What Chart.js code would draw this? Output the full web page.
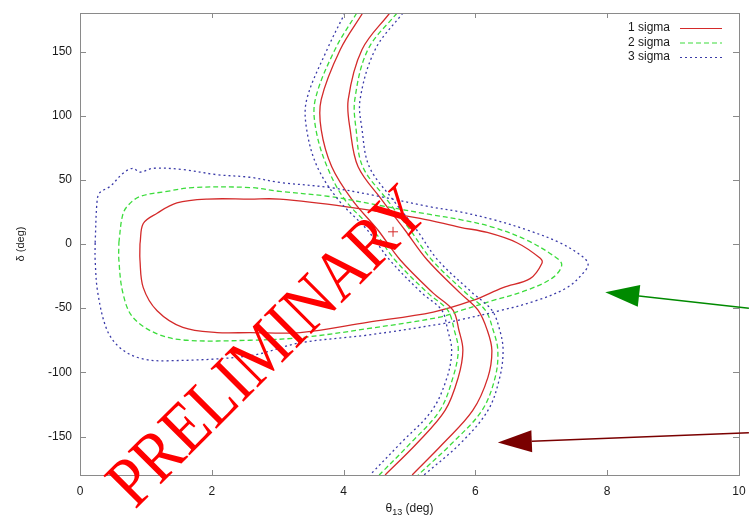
<!DOCTYPE html>
<html>
<head>
<meta charset="utf-8">
<script src="https://cdn.jsdelivr.net/npm/chart.js@4/dist/chart.umd.min.js"></script>
<style>
  body { margin: 0; background: #fff; }
  #wrap { width: 749px; height: 517px; }
</style>
</head>
<body>
<div id="wrap"><canvas id="c" width="749" height="517"></canvas></div>
<script>
// contour data, theta13 (deg) vs delta (deg)

// closed loops (horizontal lobes)
const loop1Theta = [0.91, 0.96, 1.17, 1.47, 1.93, 2.58, 3.03, 4.05, 5.16, 5.77, 6.18, 6.63, 6.98, 7.01, 6.83, 6.42, 5.96, 5.36, 4.36, 3.34, 2.58, 2.08, 1.56, 1.17, 0.96, 0.91, 0.91];
const loop1Delta = [0, 16, 24, 32, 35, 35, 35, 29, 20, 13, 9, 1, -11, -15, -27, -34, -44, -53, -61, -69, -69, -69, -65, -52, -34, -12.5, 0];

const loop2Theta = [0.59, 0.64, 0.71, 0.91, 1.32, 1.71, 2.58, 3.03, 3.79, 4.55, 5.31, 5.77, 6.27, 6.78, 7.18, 7.31, 7.18, 6.78, 6.27, 5.77, 5.46, 4.36, 3.34, 2.58, 1.62, 1.17, 0.80, 0.65, 0.59, 0.59];
const loop2Delta = [1, 21, 29, 37, 41, 44, 44, 41, 37, 30, 23, 19, 13, 3, -9, -16, -26, -36, -44, -52, -57, -66, -73, -75, -75, -70, -57, -38, -12.5, 1];

const loop3Theta = [0.23, 0.26, 0.30, 0.46, 0.65, 0.80, 0.91, 1.11, 1.56, 2.08, 2.58, 3.03, 3.79, 4.55, 5.31, 5.77, 6.27, 6.78, 7.28, 7.63, 7.71, 7.63, 7.39, 6.93, 6.37, 5.77, 5.51, 4.36, 3.34, 2.58, 1.32, 0.91, 0.61, 0.41, 0.27, 0.23, 0.23];
const loop3Delta = [1, 34, 40, 45, 55, 59, 56, 59, 58, 54, 52, 48, 44, 37, 29, 25, 19, 11, 1, -10, -16, -23, -34, -44, -52, -59, -62, -71, -77, -87, -91, -89, -81, -67, -38, -12.5, 1];

// S-shaped bands, edges sampled at common delta values
const bandDelta = [180, 151.6, 112.5, 89.1, 60.2, 34.4, 10.9, -12.5, -38.3, -51.6, -67.2, -82.8, -103.9, -129.7, -155.5, -180];
const band1Left  = [4.29, 3.95, 3.66, 3.66, 3.82, 4.13, 4.52, 4.86, 5.36, 5.66, 5.75, 5.81, 5.74, 5.54, 5.11, 4.63];
const band1Right = [4.70, 4.28, 4.07, 4.10, 4.22, 4.58, 4.93, 5.27, 5.77, 6.04, 6.18, 6.25, 6.19, 5.96, 5.51, 5.04];
const band2Left  = [4.20, 3.87, 3.57, 3.58, 3.75, 4.02, 4.45, 4.78, 5.28, 5.58, 5.68, 5.74, 5.66, 5.46, 5.01, 4.54];
const band2Right = [4.81, 4.37, 4.17, 4.19, 4.29, 4.66, 5.01, 5.34, 5.86, 6.15, 6.27, 6.34, 6.30, 6.10, 5.64, 5.13];
const band3Left  = [4.02, 3.75, 3.44, 3.44, 3.60, 3.92, 4.36, 4.70, 5.19, 5.49, 5.58, 5.64, 5.57, 5.34, 4.86, 4.40];
const band3Right = [4.90, 4.48, 4.25, 4.28, 4.39, 4.75, 5.11, 5.43, 5.96, 6.25, 6.37, 6.42, 6.37, 6.19, 5.77, 5.22];

// best fit point
const bestFit = [4.75, 9.5];

// arrows pointing off the right edge: [tailTheta, tailDelta, tipTheta, tipDelta]
const greenArrow = [10.15, -50, 7.97, -37.5];
const redArrow = [10.15, -147, 6.34, -154.7];

const xTicks = [0, 2, 4, 6, 8, 10];
const yTicks = [-150, -100, -50, 0, 50, 100, 150];
const legendLabels = ['1 sigma', '2 sigma', '3 sigma'];

const RED = '#d42a2a', GREEN = '#3cdc3c', BLUE = '#3a3aa8';
const DASHES = [[], [5, 3], [2, 3]];
const COLORS = [RED, GREEN, BLUE];
const SANS = '"Liberation Sans", Arial, sans-serif';

function pts(xs, ys) {
    return xs.map((x, i) => ({ x: x, y: ys[i] }));
}

function lineSet(data, level) {
    return {
        data: data,
        showLine: true,
        borderColor: COLORS[level],
        borderWidth: 1.3,
        borderDash: DASHES[level],
        pointRadius: 0,
        tension: 0.35,
        fill: false
    };
}

const datasets = [
    lineSet(pts(loop3Theta, loop3Delta), 2),
    lineSet(pts(band3Left, bandDelta), 2),
    lineSet(pts(band3Right, bandDelta), 2),
    lineSet(pts(loop2Theta, loop2Delta), 1),
    lineSet(pts(band2Left, bandDelta), 1),
    lineSet(pts(band2Right, bandDelta), 1),
    lineSet(pts(loop1Theta, loop1Delta), 0),
    lineSet(pts(band1Left, bandDelta), 0),
    lineSet(pts(band1Right, bandDelta), 0),
    {
        data: [{ x: bestFit[0], y: bestFit[1] }],
        pointStyle: 'cross',
        pointRadius: 5,
        borderColor: RED,
        borderWidth: 1,
        showLine: false
    }
];

function arrow(ctx, xs, ys, a, color) {
    const tx = xs.getPixelForValue(a[0]), ty = ys.getPixelForValue(a[1]);
    const hx = xs.getPixelForValue(a[2]), hy = ys.getPixelForValue(a[3]);
    const ang = Math.atan2(ty - hy, tx - hx);
    const len = 34, half = 11;
    const bx = hx + Math.cos(ang) * len, by = hy + Math.sin(ang) * len;
    ctx.save();
    ctx.strokeStyle = color;
    ctx.fillStyle = color;
    ctx.lineWidth = 1.5;
    ctx.beginPath();
    ctx.moveTo(tx, ty);
    ctx.lineTo(bx, by);
    ctx.stroke();
    ctx.beginPath();
    ctx.moveTo(hx, hy);
    ctx.lineTo(bx - Math.sin(ang) * half, by + Math.cos(ang) * half);
    ctx.lineTo(bx + Math.sin(ang) * half, by - Math.cos(ang) * half);
    ctx.closePath();
    ctx.fill();
    ctx.restore();
}

const decor = {
    id: 'decor',
    afterDraw(chart) {
        const ctx = chart.ctx, a = chart.chartArea;
        const xs = chart.scales.x, ys = chart.scales.y;

        // frame and inward ticks on all sides
        ctx.save();
        ctx.strokeStyle = '#8a8a8a';
        ctx.lineWidth = 1;
        ctx.strokeRect(a.left + 0.5, a.top + 0.5, a.right - a.left, a.bottom - a.top);
        ctx.beginPath();
        xTicks.forEach(v => {
            const px = Math.round(xs.getPixelForValue(v)) + 0.5;
            ctx.moveTo(px, a.bottom); ctx.lineTo(px, a.bottom - 5);
            ctx.moveTo(px, a.top); ctx.lineTo(px, a.top + 5);
        });
        yTicks.forEach(v => {
            const py = Math.round(ys.getPixelForValue(v)) + 0.5;
            ctx.moveTo(a.left, py); ctx.lineTo(a.left + 6, py);
            ctx.moveTo(a.right, py); ctx.lineTo(a.right - 6, py);
        });
        ctx.stroke();
        ctx.restore();

        // legend, top right
        ctx.save();
        ctx.font = '12px ' + SANS;
        ctx.fillStyle = '#1a1a1a';
        ctx.textAlign = 'right';
        ctx.textBaseline = 'middle';
        legendLabels.forEach((t, i) => {
            const y = a.top + 15 + i * 14.5;
            ctx.fillText(t, a.right - 69, y);
            ctx.strokeStyle = COLORS[i];
            ctx.lineWidth = 1.2;
            ctx.setLineDash(DASHES[i]);
            ctx.beginPath();
            ctx.moveTo(a.right - 59, y + 0.5);
            ctx.lineTo(a.right - 17, y + 0.5);
            ctx.stroke();
        });
        ctx.setLineDash([]);
        ctx.restore();

        // axis titles
        ctx.save();
        ctx.fillStyle = '#1a1a1a';
        ctx.font = '12px ' + SANS;
        ctx.textBaseline = 'middle';
        const cx = (a.left + a.right) / 2;
        const w1 = ctx.measureText('\u03b8').width;
        const w3 = ctx.measureText(' (deg)').width;
        ctx.font = '9px ' + SANS;
        const w2 = ctx.measureText('13').width;
        const x0 = cx - (w1 + w2 + w3) / 2;
        ctx.font = '12px ' + SANS;
        ctx.textAlign = 'left';
        ctx.fillText('\u03b8', x0, 509);
        ctx.font = '9px ' + SANS;
        ctx.fillText('13', x0 + w1, 513);
        ctx.font = '12px ' + SANS;
        ctx.fillText(' (deg)', x0 + w1 + w2, 509);

        ctx.translate(21, (a.top + a.bottom) / 2);
        ctx.rotate(-Math.PI / 2);
        ctx.textAlign = 'center';
        ctx.font = '11px ' + SANS;
        ctx.fillText('\u03b4 (deg)', 0, 0);
        ctx.restore();

        // arrows
        arrow(ctx, xs, ys, greenArrow, '#008a00');
        arrow(ctx, xs, ys, redArrow, '#7a0000');

        // watermark
        ctx.save();
        ctx.translate(266, 345);
        ctx.rotate(-Math.PI / 4);
        ctx.scale(0.87, 1);
        ctx.font = '71px "Liberation Serif", "Times New Roman", serif';
        ctx.fillStyle = '#ff0000';
        ctx.textAlign = 'center';
        ctx.textBaseline = 'alphabetic';
        ctx.fillText('PRELIMINARY', 0, 24);
        ctx.restore();
    }
};

new Chart(document.getElementById('c').getContext('2d'), {
    type: 'scatter',
    data: { datasets: datasets },
    options: {
        responsive: false,
        animation: false,
        layout: { padding: { top: 13, right: 10, left: 0, bottom: 0 } },
        plugins: {
            legend: { display: false },
            tooltip: { enabled: false }
        },
        scales: {
            x: {
                type: 'linear',
                min: 0,
                max: 10,
                afterFit: s => { s.height = 42; s.paddingLeft = 0; s.paddingRight = 0; },
                afterBuildTicks: s => { s.ticks = xTicks.map(v => ({ value: v })); },
                grid: { display: false, drawTicks: false },
                border: { display: false },
                ticks: {
                    padding: 9,
                    color: '#1a1a1a',
                    font: { size: 12, family: SANS },
                    maxRotation: 0
                }
            },
            y: {
                type: 'linear',
                min: -180,
                max: 180,
                afterFit: s => { s.width = 80; s.paddingTop = 0; s.paddingBottom = 0; },
                afterBuildTicks: s => { s.ticks = yTicks.map(v => ({ value: v })); },
                grid: { display: false, drawTicks: false },
                border: { display: false },
                ticks: {
                    padding: 8,
                    color: '#1a1a1a',
                    font: { size: 12, family: SANS }
                }
            }
        }
    },
    plugins: [decor]
});
</script>
</body>
</html>
